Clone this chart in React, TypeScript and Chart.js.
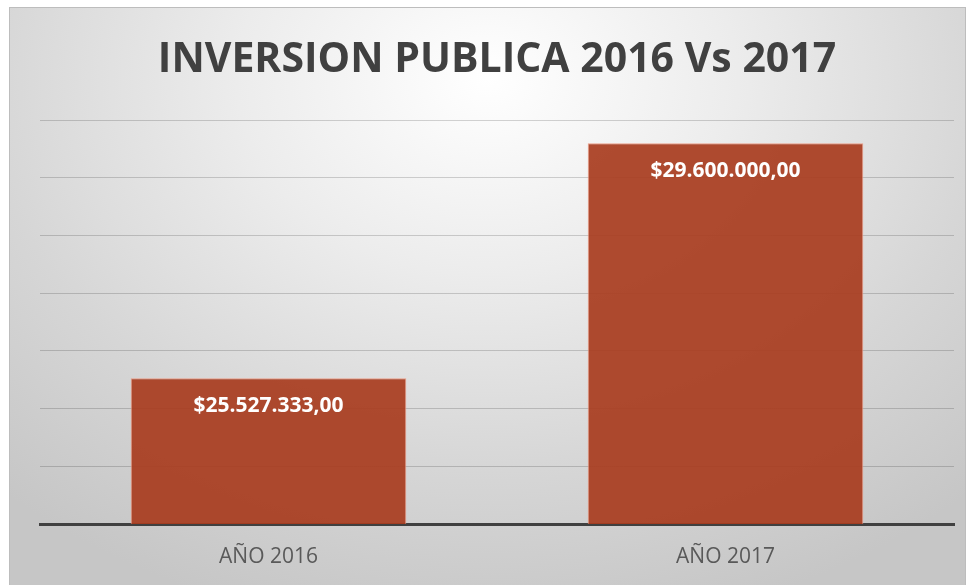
import React, { useEffect, useRef } from "react";
import { Chart, registerables } from "chart.js";

Chart.register(...registerables);

const categories = ["AÑO 2016", "AÑO 2017"];
const values = [25527333, 29600000];
const valueLabels = ["$25.527.333,00", "$29.600.000,00"];
const yMin = 23000000;
const yMax = 30000000;
const yStep = 1000000;
const titleText = "INVERSION PUBLICA 2016 Vs 2017";

const FONT = "'Open Sans', 'DejaVu Sans', sans-serif";

const valueLabelPlugin = {
  id: "valueLabels",
  afterDatasetsDraw(chart: any) {
    const ctx = chart.ctx;
    const meta = chart.getDatasetMeta(0);
    ctx.save();
    ctx.fillStyle = "#ffffff";
    ctx.font = `bold 21px ${FONT}`;
    ctx.textAlign = "center";
    ctx.textBaseline = "middle";
    meta.data.forEach((bar: any, i: number) => {
      ctx.fillText(valueLabels[i], bar.x, bar.y + 28);
    });
    ctx.restore();
  },
};

export default function App() {
  const ref = useRef<HTMLCanvasElement | null>(null);

  useEffect(() => {
    if (!ref.current) return;
    const chart = new Chart(ref.current, {
      type: "bar",
      data: {
        labels: categories,
        datasets: [
          {
            data: values,
            backgroundColor: "rgba(168, 60, 30, 0.92)",
            borderColor: "rgba(235, 150, 125, 0.9)",
            borderWidth: 1,
            barPercentage: 0.603,
            categoryPercentage: 1,
          },
        ],
      },
      options: {
        animation: false,
        responsive: false,
        maintainAspectRatio: false,
        layout: { padding: { left: 30, right: 11, top: 0, bottom: 0 } },
        plugins: {
          legend: { display: false },
          tooltip: { enabled: false },
          title: {
            display: true,
            text: titleText,
            color: "#404040",
            font: { family: FONT, size: 41, weight: "bold", lineHeight: 1.2 },
            padding: { top: 28, bottom: 35 },
          },
        },
        scales: {
          x: {
            grid: { display: false, drawTicks: false },
            border: { display: true, color: "#404040", width: 3 },
            ticks: {
              color: "#595959",
              font: { family: FONT, size: 21 },
              padding: 20,
            },
            afterFit: (s: any) => {
              s.height = 61;
            },
          },
          y: {
            min: yMin,
            max: yMax,
            ticks: { display: false, stepSize: yStep },
            grid: { color: "rgba(0,0,0,0.17)", lineWidth: 1, drawTicks: false },
            border: { display: false },
            afterFit: (s: any) => {
              s.width = 0;
            },
          },
        },
      },
      plugins: [valueLabelPlugin],
    });
    return () => chart.destroy();
  }, []);

  return (
    <div
      style={{
        position: "fixed",
        left: 0,
        top: 0,
        width: 968,
        height: 585,
        background: "#ffffff",
        overflow: "hidden",
      }}
    >
      <div
        style={{
          position: "absolute",
          left: 9,
          top: 7,
          width: 955,
          height: 590,
          border: "1px solid #bdbdbd",
          background:
            "radial-gradient(ellipse 75% 95% at 50% 12%, #ffffff 0%, #ececec 35%, #d6d6d6 70%, #c6c6c6 100%)",
        }}
      >
        <canvas ref={ref} width={955} height={577} style={{ display: "block" }} />
      </div>
    </div>
  );
}
